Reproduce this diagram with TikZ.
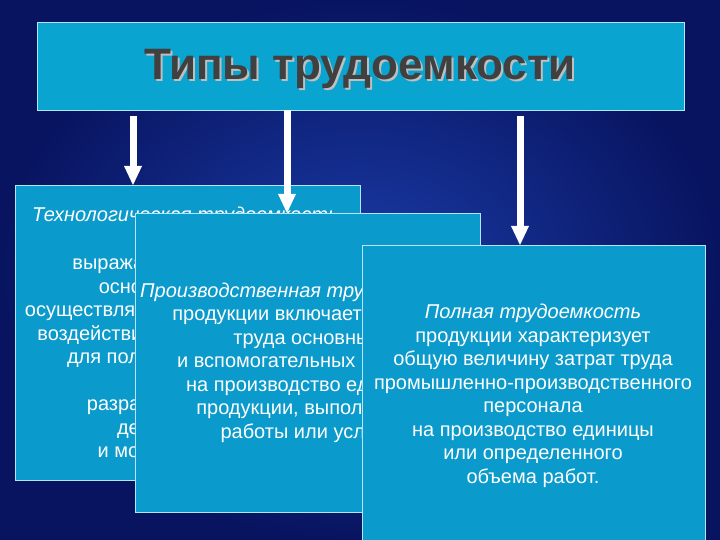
\documentclass[tikz,border=0pt]{standalone}
\usepackage{fontspec}
\setmainfont{Liberation Sans}
\begin{document}
\begin{tikzpicture}[x=1pt,y=-1pt,
  box/.style={draw=cyan!30!white,line width=0.8pt,fill=boxc},
  t/.style={text=white,font=\fontsize{20}{23.5}\selectfont,align=center,anchor=north,inner sep=0},
  it/.style={text=white,font=\itshape\fontsize{20}{23.5}\selectfont,anchor=base west,inner sep=0}]
\definecolor{boxc}{HTML}{0A9ACB}
\definecolor{bgo}{HTML}{081460}
\definecolor{bgi}{HTML}{1A3CA8}
\useasboundingbox (0,0) rectangle (720,540);
\shade[inner color=bgi,outer color=bgo] (0,0) rectangle (720,540);
\node[box,fill=boxc!90!cyan,minimum width=647,minimum height=88,inner sep=0,anchor=north west] (title) at (37,22) {};
\node[font=\bfseries\fontsize{44}{48}\selectfont,text=white!75!black] at (362,71) {Типы трудоемкости};
\node[font=\bfseries\fontsize{44}{48}\selectfont,text=black!75] (tt) at (360,69) {Типы трудоемкости};
% arrows
\coordinate (a1s) at (133,116); \coordinate (a1e) at (133,185);
\coordinate (a2s) at (287,110); \coordinate (a2e) at (287,213);
\coordinate (a3s) at (520,116); \coordinate (a3e) at (520,245);
\def\arrowdraw#1#2{\draw[white,line width=7pt] (#1) -- ([yshift=16]#2);
  \fill[white] ([xshift=-9,yshift=19]#2) -- ([xshift=9,yshift=19]#2) -- (#2) -- cycle;}
\arrowdraw{a1s}{a1e}
\arrowdraw{a3s}{a3e}
% box1
\node[box,minimum width=345,minimum height=295,inner sep=0,anchor=north west] (b1) at (15,185) {};
\node[it] at (32,222) {Технологическая трудоемкость};
\node[t] at (187,259) {выражает затраты труда\\основных рабочих,\\осуществляющих технологическое\\воздействие на предметы труда\\для получения продукции\\(работы).\\разрабатывается для\\деталей, узлов\\и монтажа изделий};
\arrowdraw{a2s}{a2e}
% box2
\node[box,minimum width=345,minimum height=299,inner sep=0,anchor=north west] (b2) at (135,213) {};
\node[it] at (140,297) {Производственная трудоемкость};
\node[t] at (307,310) {продукции включает затраты\\труда основных\\и вспомогательных рабочих\\на производство единицы\\продукции, выполнения\\работы или услуги};
% box3
\node[box,minimum width=343,minimum height=300,inner sep=0,anchor=north west] (b3) at (362,245) {};
\node[t] at (533,304) {\itshape Полная трудоемкость\\продукции характеризует\\общую величину затрат труда\\промышленно-производственного\\персонала\\на производство единицы\\или определенного\\объема работ.};
\end{tikzpicture}
\end{document}
